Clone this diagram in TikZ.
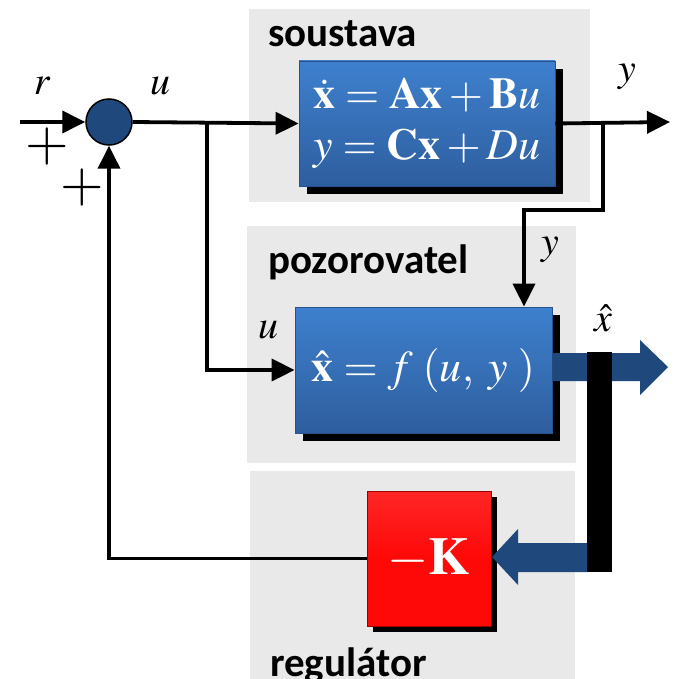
\documentclass[tikz,border=0pt]{standalone}
\usepackage{mathptmx}
\usepackage[no-math]{fontspec}
\setmainfont{Liberation Serif}
\newfontfamily\lblfont{Carlito}
\usetikzlibrary{arrows.meta,shadows,calc}
\definecolor{panel}{RGB}{233,233,233}
\definecolor{dkblue}{RGB}{31,73,125}
\definecolor{boxtop}{RGB}{62,128,206}
\definecolor{boxbot}{RGB}{46,94,158}
\definecolor{boxedge}{RGB}{40,80,140}
\definecolor{kred}{RGB}{255,8,8}
\begin{document}
\begin{tikzpicture}[x=1pt,y=-1pt,
  blockbox/.style={rectangle, draw=boxedge, line width=0.8pt, top color=boxtop, bottom color=boxbot,
     general shadow={fill=black, shadow xshift=8pt, shadow yshift=-8pt}, text=white, inner sep=0pt, align=center},
  kbox/.style={rectangle, draw=red!60!black, line width=0.8pt, top color=red!85!white, bottom color=kred, middle color=kred,
     general shadow={fill=black, shadow xshift=6pt, shadow yshift=-6pt}, text=white, inner sep=0pt},
  conn/.style={line width=3.8pt, -{Triangle[length=23pt,width=22pt]}},
  panelbox/.style={fill=panel},
  title/.style={font=\lblfont\bfseries\fontsize{41}{41}\selectfont, anchor=base west, inner sep=0pt},
  sig/.style={font=\fontsize{40}{40}\selectfont, inner sep=0pt},
  fatarrow/.style={fill=dkblue}
]
\useasboundingbox (0,0) rectangle (675,679);
% panels
\fill[panelbox] (249,9) rectangle (590,202);
\fill[panelbox] (247,226) rectangle (576,463);
\fill[panelbox] (250,471) rectangle (575,679);
\node[title] (t1) at (268,47) {soustava};
\node[title] (t2) at (268,273) {pozorovatel};
\node[title] (t3) at (270,676) {regulátor};

% blocks
\node[blockbox, minimum width=256pt, minimum height=125pt, font=\fontsize{44}{51}\selectfont] (sys) at (427,123.5)
  {$\dot{\mathbf{x}}=\mathbf{A}\mathbf{x}+\mathbf{B}u$\\ $y=\mathbf{C}\mathbf{x}+Du$};
\node[blockbox, minimum width=257pt, minimum height=126pt, font=\fontsize{44}{50}\selectfont] (obs) at (423.5,370)
  {$\hat{\mathbf{x}}=f\;(u,\;y\;)$};
\node[kbox, minimum width=124pt, minimum height=135pt, font=\fontsize{53}{53}\selectfont] (K) at (429,558.5)
  {$-\mathbf{K}$};

% summing junction
\node[circle, fill=dkblue, draw=black, line width=1.5pt, minimum size=46pt, inner sep=0pt] (sum) at (109,122) {};

% connectors
\coordinate (in) at (20,122);
\coordinate (b1) at (207,122);
\coordinate (out) at (670,122);
\coordinate (b2) at (603,122);
\coordinate (yk) at (524,210);
\draw[conn] (in) -- (sum.west);
\draw[conn] (sum.east) -- (sys.west);
\draw[conn] (b1) |- (obs.west);
\draw[conn] (sys.east) -- (out);
\draw[conn] (b2) |- (yk) -- (yk |- obs.north);
\draw[conn] (K.west) -| (sum.south);

% fat arrows and bar
\fill[fatarrow] (obs.east |- 0,353) -- (640,353) -- (640,340) -- (668,367) -- (640,395) -- (640,381) -- (obs.east |- 0,381) -- cycle;
\fill[black] (587,352) rectangle (612,572);
\fill[fatarrow] (587,543) -- (518,543) -- (518,529) -- (492,557) -- (518,585) -- (518,572) -- (587,572) -- cycle;

% labels
\node[sig] (lr) at (42,86) {$r$};
\node[sig] (lu) at (160,86) {$u$};
\node[sig, font=\fontsize{56}{56}\selectfont] (p1) at (47,147) {$+$};
\node[sig, font=\fontsize{56}{56}\selectfont] (p2) at (82,188) {$+$};
\node[sig] (ly1) at (627,77) {$y$};
\node[sig] (ly2) at (550,250) {$y$};
\node[sig] (lu2) at (268,330) {$u$};
\node[sig] (lxh) at (603,318) {$\hat{x}$};
\end{tikzpicture}
\end{document}
